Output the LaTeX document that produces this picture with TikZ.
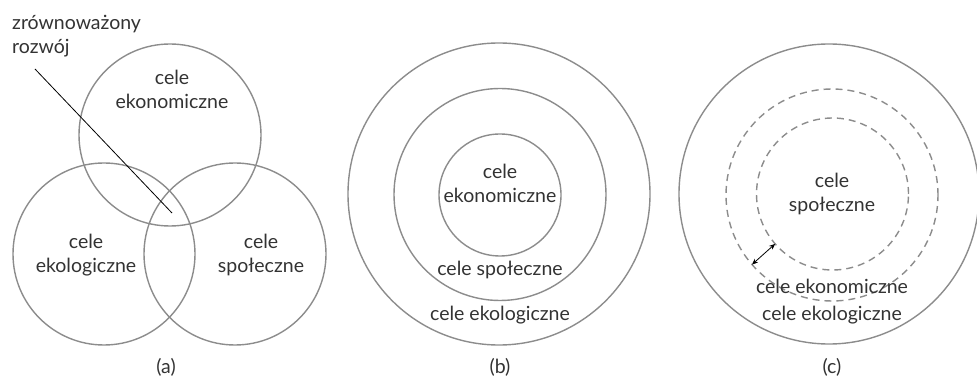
\documentclass[tikz,border=0pt]{standalone}
\usepackage{fontspec}
\setmainfont{Lato}
\usetikzlibrary{arrows.meta}
\definecolor{ring}{HTML}{8C8C8C}
\definecolor{txt}{HTML}{333333}
\begin{document}
\begin{tikzpicture}[x=1pt,y=-1pt,
  ringc/.style={circle,draw=ring,line width=1.4pt,inner sep=0pt,outer sep=0pt,minimum size=#1},
  dashc/.style={ringc=#1,dash pattern=on 7pt off 5pt},
  lbl/.style={text=txt,font=\fontsize{19.5}{24}\selectfont,align=center,inner sep=0pt}]
\useasboundingbox (0,0) rectangle (977,387);
% (a)
\node[ringc=182pt] (aeko) at (170,135) {};
\node[ringc=182pt] (aekol) at (104,254) {};
\node[ringc=182pt] (aspo) at (235,254) {};
\node[lbl] (taeko) at (172,89) {cele\\ekonomiczne};
\node[lbl] (taekol) at (86,255) {cele\\ekologiczne};
\node[lbl] (taspo) at (261,255) {cele\\społeczne};
\node[lbl,align=left,anchor=west] (tzr) at (12,36) {zrównoważony\\rozwój};
\coordinate (pz1) at (35,69);
\coordinate (pz2) at (172,213);
\draw[black,line width=0.8pt] (pz1) -- (pz2);
\node[lbl] (ta) at (166,367) {(a)};
% (b)
\node[ringc=302pt] (bout) at (499,194) {};
\node[ringc=212pt] (bmid) at (500,194.5) {};
\node[ringc=122pt] (bin) at (500,195) {};
\node[lbl] (tbeko) at (500,183) {cele\\ekonomiczne};
\node[lbl] (tbspo) at (500,270) {cele społeczne};
\node[lbl] (tbekol) at (500,315) {cele ekologiczne};
\node[lbl] (tb) at (500,367) {(b)};
% (c)
\node[ringc=300pt] (cout) at (829,194) {};
\node[dashc=212pt] (cmid) at (832,195) {};
\node[dashc=152pt] (cin) at (832.5,194) {};
\node[lbl] (tcspo) at (832,194) {cele\\społeczne};
\node[lbl] (tceko) at (832,286) {cele ekonomiczne};
\node[lbl] (tcekol) at (832,315) {cele ekologiczne};
\draw[black,line width=0.8pt,{Stealth[length=6pt,width=5pt]}-{Stealth[length=6pt,width=5pt]}] (cmid.221) -- (cin.221);
\node[lbl] (tc) at (832,367) {(c)};
\end{tikzpicture}
\end{document}
